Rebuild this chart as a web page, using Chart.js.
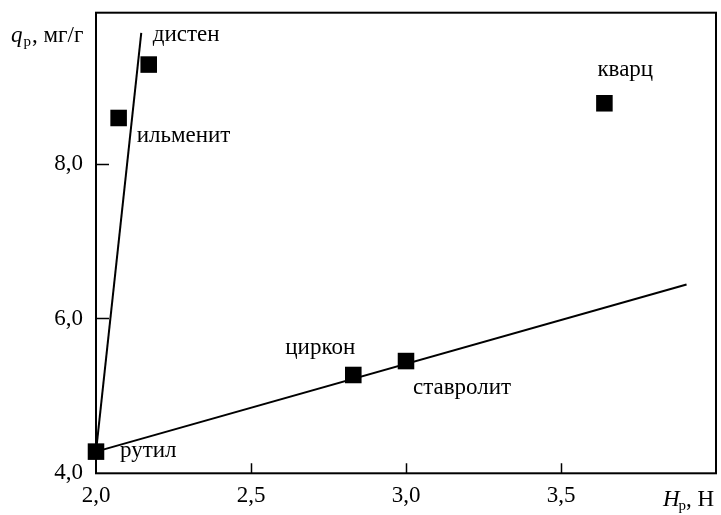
<!DOCTYPE html>
<html>
<head>
<meta charset="utf-8">
<script src="https://cdn.jsdelivr.net/npm/chart.js@4/dist/chart.umd.min.js"></script>
<style>
  html, body { margin: 0; padding: 0; background: #fff; }
  canvas { display: block; }
</style>
</head>
<body>
<canvas id="c" width="721" height="515"></canvas>
<script>
// Minerals: microhardness H_p (N) and sorption capacity q_p (mg/g)
const minerals = ['рутил', 'ильменит', 'дистен', 'циркон', 'ставролит', 'кварц'];
const hardness = [2.0, 2.073, 2.17, 2.83, 3.0, 3.64];
const sorption = [4.28, 8.59, 9.28, 5.27, 5.45, 8.78];

// Two trend lines, both starting at rutile
const steepLineH = [2.0, 2.146];
const steepLineQ = [4.28, 9.69];
const shallowLineH = [2.0, 3.905];
const shallowLineQ = [4.28, 6.44];

// Axis ticks
const xTicks = [2.0, 2.5, 3.0, 3.5];
const yTicks = [4.0, 6.0, 8.0];

const FONT = '"Liberation Serif", "Times New Roman", serif';
const FS = 23;
const SUB = 15;

const toPts = (xs, ys) => xs.map((x, i) => ({ x: x, y: ys[i] }));
const comma = v => Number(v).toFixed(1).replace('.', ',');

// Label offsets (px, left/baseline) from each marker, in mineral order
const labelOffsets = [[24, 5], [18, 24.5], [4, -24], [-68, -21], [7, 32.5], [-7, -27]];

const decorations = {
  id: 'decorations',
  afterDraw(chart) {
    const ctx = chart.ctx;
    const a = chart.chartArea;
    const xs = chart.scales.x, ys = chart.scales.y;
    ctx.save();
    ctx.strokeStyle = '#000';
    ctx.lineWidth = 2;
    ctx.strokeRect(a.left, a.top, a.right - a.left, a.bottom - a.top);
    // inward tick marks
    ctx.lineWidth = 1.5;
    ctx.beginPath();
    xTicks.forEach(v => {
      if (v === xs.min) return;
      const px = Math.round(xs.getPixelForValue(v)) + 0.5;
      ctx.moveTo(px, a.bottom); ctx.lineTo(px, a.bottom - 10);
    });
    yTicks.forEach(v => {
      if (v === ys.min) return;
      const py = Math.round(ys.getPixelForValue(v)) + 0.5;
      ctx.moveTo(a.left, py); ctx.lineTo(a.left + 13, py);
    });
    ctx.stroke();

    // mineral names
    ctx.fillStyle = '#000';
    ctx.font = FS + 'px ' + FONT;
    ctx.textAlign = 'left';
    ctx.textBaseline = 'alphabetic';
    minerals.forEach((name, i) => {
      const px = xs.getPixelForValue(hardness[i]);
      const py = ys.getPixelForValue(sorption[i]);
      ctx.fillText(name, px + labelOffsets[i][0], py + labelOffsets[i][1]);
    });

    // y axis title: q_p, мг/г
    let x = 11, y = 42;
    ctx.font = 'italic ' + FS + 'px ' + FONT;
    ctx.fillText('q', x, y);
    x += ctx.measureText('q').width + 1;
    ctx.font = SUB + 'px ' + FONT;
    ctx.fillText('р', x, y + 4);
    x += ctx.measureText('р').width;
    ctx.font = FS + 'px ' + FONT;
    ctx.fillText(', мг/г', x + 1, y);

    // x axis title: H_p, Н
    x = 663; y = 506;
    ctx.font = 'italic ' + FS + 'px ' + FONT;
    ctx.fillText('H', x, y);
    x += ctx.measureText('H').width - 1;
    ctx.font = SUB + 'px ' + FONT;
    ctx.fillText('р', x, y + 4);
    x += ctx.measureText('р').width;
    ctx.font = FS + 'px ' + FONT;
    ctx.fillText(', Н', x, y);
    ctx.restore();
  }
};

new Chart(document.getElementById('c'), {
  type: 'scatter',
  data: {
    datasets: [
      {
        data: toPts(steepLineH, steepLineQ),
        showLine: true, borderColor: '#000', borderWidth: 2,
        pointRadius: 0, fill: false, clip: false
      },
      {
        data: toPts(shallowLineH, shallowLineQ),
        showLine: true, borderColor: '#000', borderWidth: 2,
        pointRadius: 0, fill: false, clip: false
      },
      {
        data: toPts(hardness, sorption),
        pointStyle: 'rect', pointRadius: 11.7,
        backgroundColor: '#000', borderColor: '#000', borderWidth: 0,
        clip: false
      }
    ]
  },
  options: {
    responsive: false,
    animation: false,
    layout: { autoPadding: false, padding: { top: 12.7, right: 5, left: 0, bottom: 0 } },
    plugins: { legend: { display: false }, tooltip: { enabled: false } },
    scales: {
      x: {
        type: 'linear', min: 2.0, max: 4.0,
        grid: { display: false, drawTicks: false },
        border: { display: false },
        afterBuildTicks: s => { s.ticks = xTicks.map(v => ({ value: v })); },
        afterFit: s => { s.height = 41.7; s.paddingLeft = 0; s.paddingRight = 0; },
        ticks: {
          color: '#000', padding: 9, maxRotation: 0,
          font: { family: FONT, size: FS },
          callback: v => comma(v)
        }
      },
      y: {
        type: 'linear', min: 4.0, max: 9.95,
        grid: { display: false, drawTicks: false },
        border: { display: false },
        afterBuildTicks: s => { s.ticks = yTicks.map(v => ({ value: v })); },
        afterFit: s => { s.width = 96; s.paddingTop = 0; s.paddingBottom = 0; },
        ticks: {
          color: '#000', padding: 13,
          font: { family: FONT, size: FS },
          callback: v => comma(v)
        }
      }
    }
  },
  plugins: [decorations]
});
</script>
</body>
</html>
